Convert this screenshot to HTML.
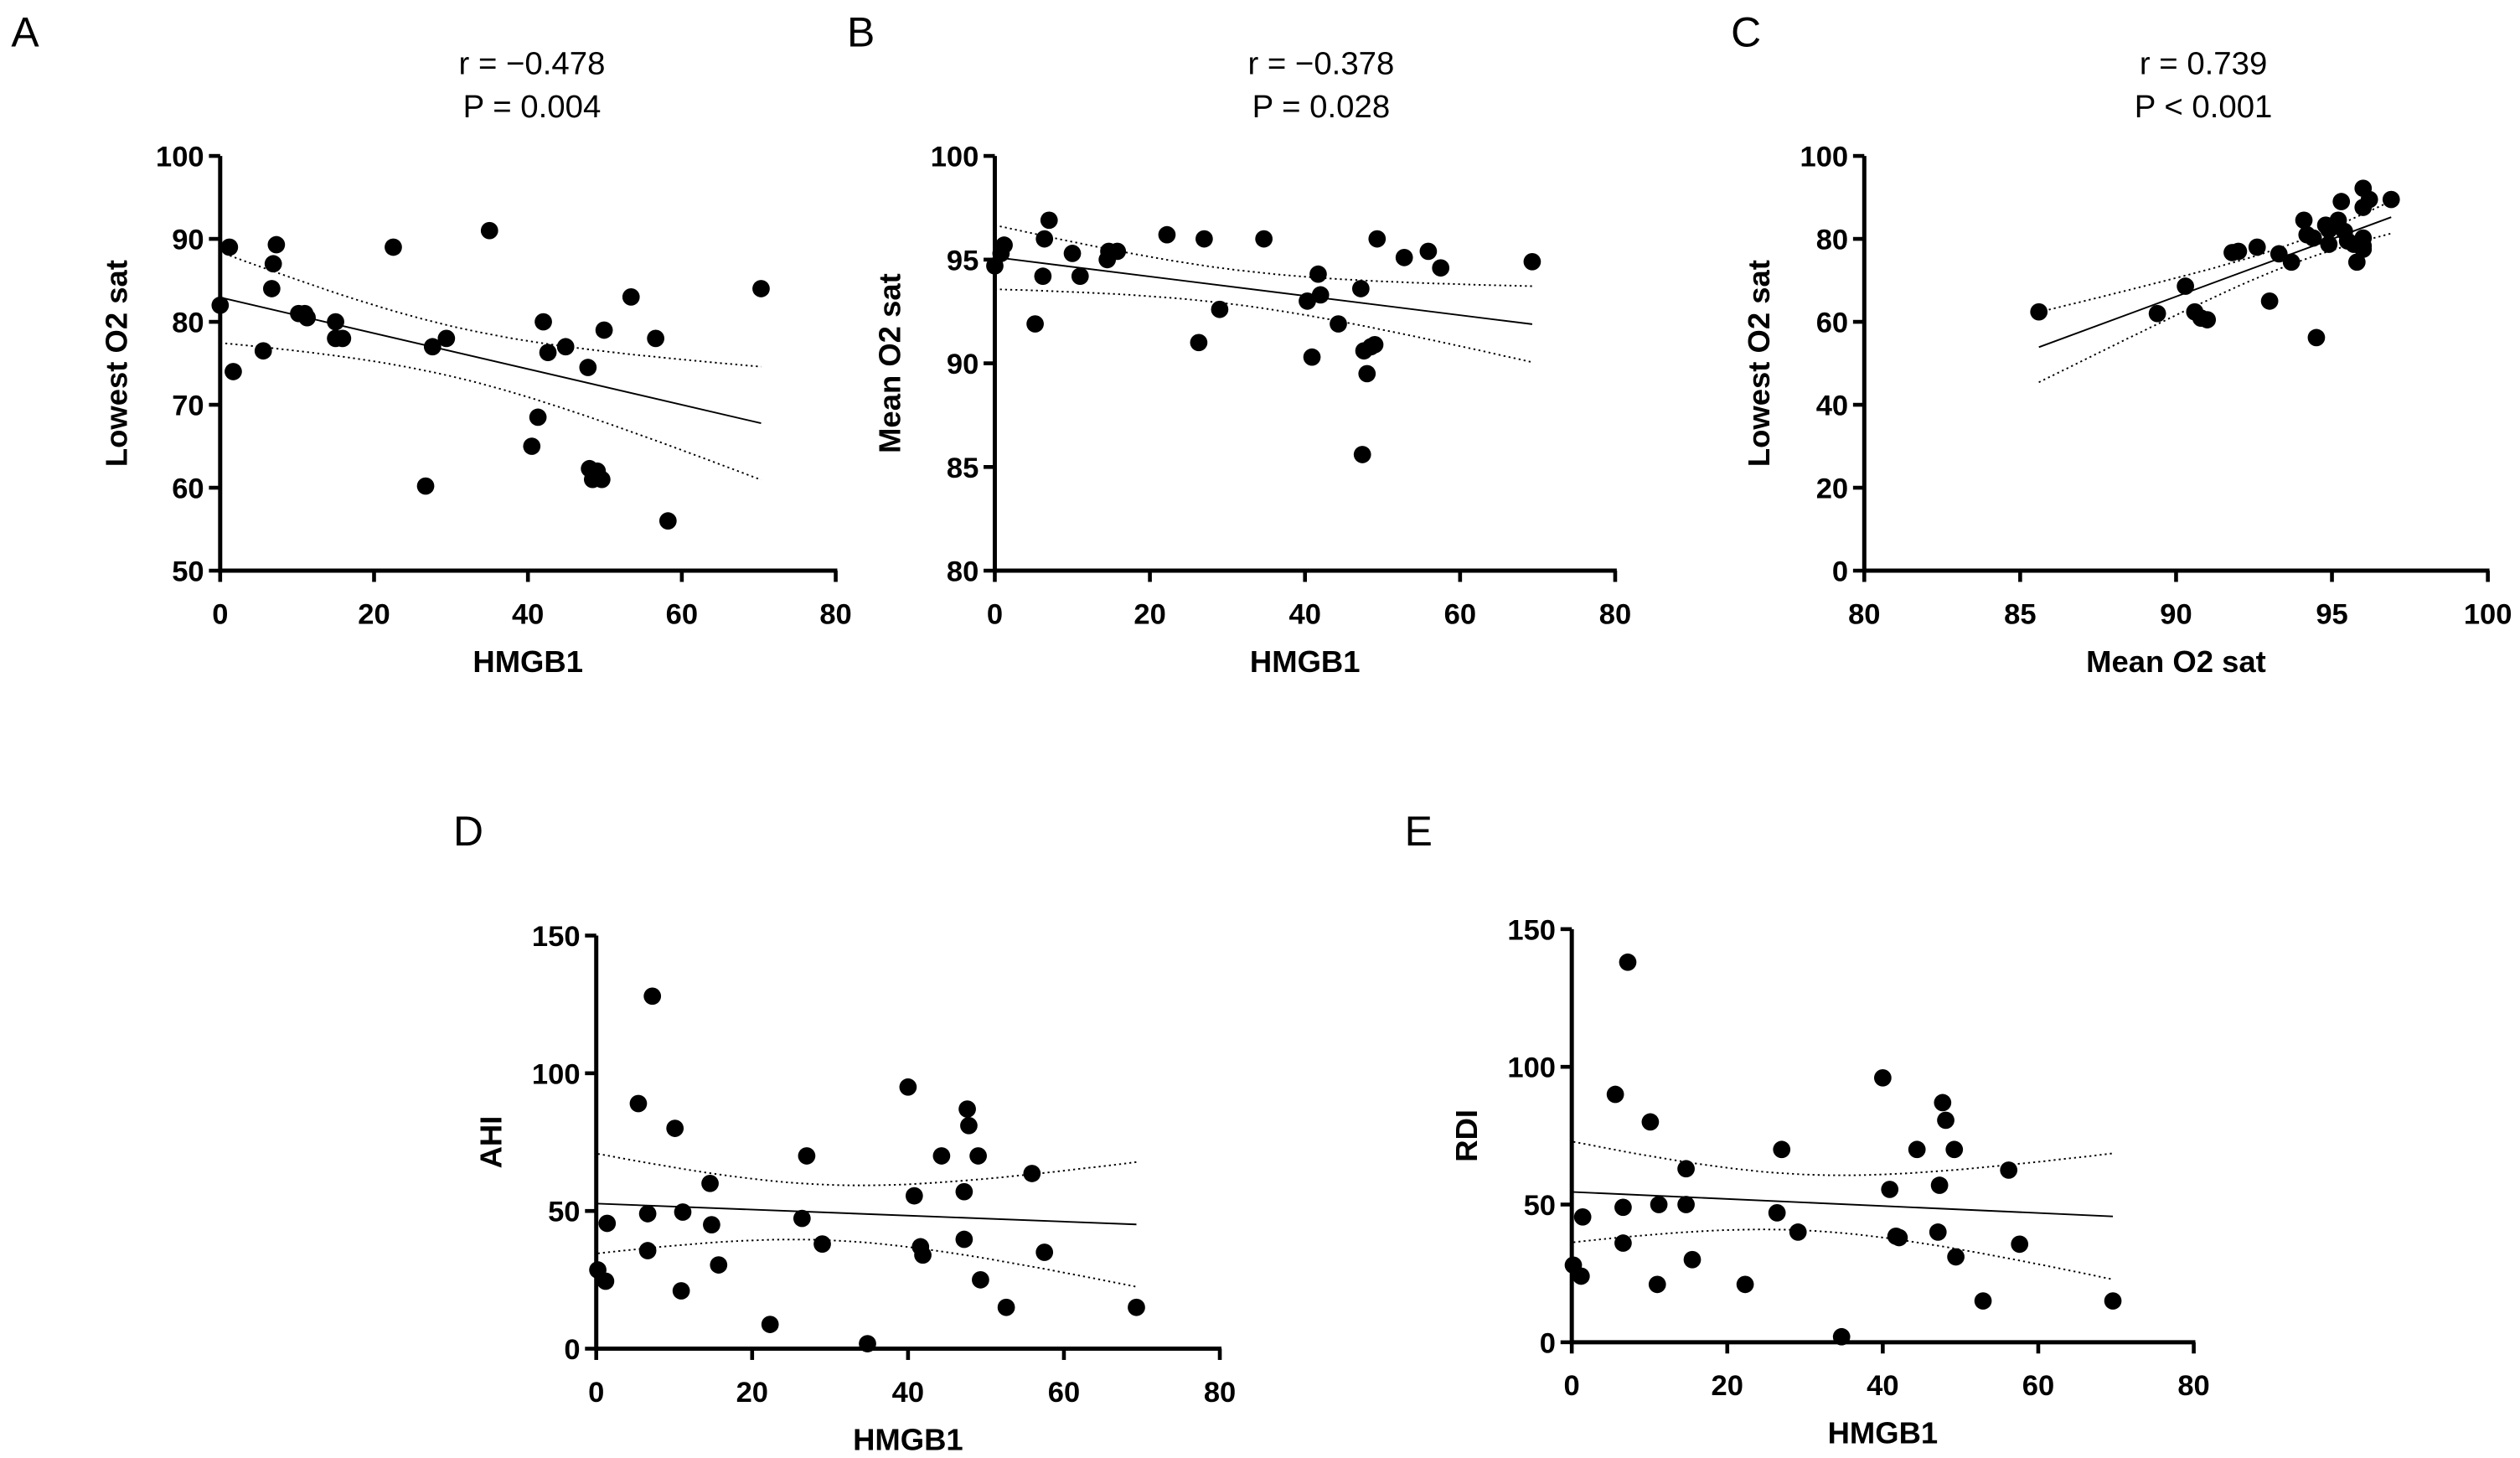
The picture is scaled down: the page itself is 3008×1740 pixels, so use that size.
<!DOCTYPE html>
<html><head><meta charset="utf-8"><style>
html,body{margin:0;padding:0;background:#fff}
svg{display:block}
text{font-family:"Liberation Sans",Arial,sans-serif;fill:#000}
.tk{font-weight:bold;font-size:18px}
.at{font-weight:bold;font-size:19px}
.st{font-size:20px}
.pl{font-size:26px}
</style></head><body>
<svg id="fig" width="3008" height="1740" viewBox="0 0 1568 907" xmlns="http://www.w3.org/2000/svg"></svg>
<script>
// Panel A: HMGB1 vs Lowest O2 sat
const aX=[0,1.2,1.7,5.6,6.9,6.7,7.3,10.2,11,11.3,15,15,15.9,22.5,26.7,27.6,29.4,35,40.5,41.3,42,42.6,44.9,47.8,48,48.4,49,49.6,49.9,53.4,56.6,58.2,70.3];
const aY=[82,89,74,76.5,87,84,89.3,81,81,80.5,80,78,78,89,60.2,77,78,91,65,68.5,80,76.3,77,74.5,62.3,61,62,61,79,83,78,56,84];
// Panel B: HMGB1 vs Mean O2 sat
const bX=[0,0.8,1.2,5.2,6.2,6.4,7,10,11,14.5,14.7,15.8,22.2,26.3,27,29,34.7,40.3,40.9,41.7,42,44.3,47.2,47.6,47.4,48,48.5,49,49.3,52.8,55.9,57.5,69.3];
const bY=[94.7,95.3,95.7,91.9,94.2,96,96.9,95.3,94.2,95,95.4,95.4,96.2,91,96,92.6,96,93,90.3,94.3,93.3,91.9,93.6,90.6,85.6,89.5,90.8,90.9,96,95.1,95.4,94.6,94.9];
// Panel C: Mean vs Lowest O2 sat
const cX=[85.6,89.4,90.3,90.6,90.8,91,91.8,92,92.6,93,93.3,93.7,94.1,94.2,94.4,94.5,94.8,94.9,94.9,95.2,95.3,95.4,95.5,95.7,95.8,96,96,96,96,96,96.2,96.9];
const cY=[62.4,62,68.6,62.4,60.9,60.5,76.7,77,78,65,76.4,74.4,84.5,81,80.2,56.2,83.3,82.2,78.7,84.5,89,81.8,79.5,78.7,74.4,92.2,87.6,80.2,78.3,77.5,89.5,89.5];
// Panel D: HMGB1 vs AHI
const dX=[0.2,1.2,1.4,5.4,6.6,6.6,7.2,10.1,11.1,10.9,14.6,14.8,15.7,22.3,26.4,27,29,34.8,40,40.8,41.6,41.9,44.3,47.2,47.2,47.6,47.8,49,49.3,52.6,55.9,57.5,69.3];
const dY=[28.6,24.5,45.5,89,49,35.6,128,80,49.6,21,60,45,30.4,8.8,47.3,70,38,1.8,95,55.5,37,34,70,57,39.7,87,81,70,25,15,63.6,35,15];
// Panel E: HMGB1 vs RDI
const eX=[0.2,1.2,1.4,5.6,6.6,6.6,7.2,10.1,11.2,11,14.7,14.7,15.5,22.3,26.4,27,29.1,34.7,40,40.9,41.7,42.1,44.4,47.3,47.1,47.7,48.1,49.2,49.4,52.9,56.2,57.6,69.6];
const eY=[28,24,45.5,90,49,36,138,80,50,21,63,50,30,21,47,70,40,2,96,55.5,38.5,38,70,57,40,87,80.6,70,31,15,62.5,35.6,15];
// Tick labels
const ticksHMGB=[0,20,40,60,80];
const ticksLowA=[50,60,70,80,90,100];
const ticksMeanB=[80,85,90,95,100];
const ticksMeanC=[80,85,90,95,100];
const ticksLowC=[0,20,40,60,80,100];
const ticksAHI=[0,50,100,150];
const statsA=["r = \u22120.478","P = 0.004"];
const statsB=["r = \u22120.378","P = 0.028"];
const statsC=["r = 0.739","P < 0.001"];

const NS="http://www.w3.org/2000/svg";
const svg=document.getElementById('fig');
function mk(tag,attrs,parent){const e=document.createElementNS(NS,tag);for(const k in attrs)e.setAttribute(k,attrs[k]);(parent||svg).appendChild(e);return e;}

function panel(o){
  const g=mk('g',{});
  
  
  const sx=v=>o.x0+(v-o.xt[0])/(o.xt[o.xt.length-1]-o.xt[0])*(o.x1-o.x0);
  const sy=v=>o.y0-(v-o.yt[0])/(o.yt[o.yt.length-1]-o.yt[0])*(o.y0-o.y1);
  const X=o.xs,Y=o.ys,n=X.length;
  const mx=X.reduce((a,b)=>a+b)/n,my=Y.reduce((a,b)=>a+b)/n;
  let sxx=0,sxy=0;for(let i=0;i<n;i++){sxx+=(X[i]-mx)**2;sxy+=(X[i]-mx)*(Y[i]-my);}
  const b=sxy/sxx,a=my-b*mx;
  let sse=0;for(let i=0;i<n;i++)sse+=(Y[i]-a-b*X[i])**2;
  const s=Math.sqrt(sse/(n-2)),t=2.04;
  const xmin=Math.min(...X),xmax=Math.max(...X);
  const up=[],lo=[];
  for(let k=0;k<=40;k++){const xv=xmin+(xmax-xmin)*k/40;const yh=a+b*xv;const se=s*Math.sqrt(1/n+(xv-mx)**2/sxx);
    up.push(sx(xv).toFixed(1)+','+sy(yh+t*se).toFixed(1));lo.push(sx(xv).toFixed(1)+','+sy(yh-t*se).toFixed(1));}
  const cu=mk('polyline',{points:up.join(' '),fill:'none',stroke:'#000','stroke-width':1,'stroke-dasharray':'1.2,2'},g);
  
  
  const cl=mk('polyline',{points:lo.join(' '),fill:'none',stroke:'#000','stroke-width':1,'stroke-dasharray':'1.2,2'},g);
  
  
  const rl=mk('line',{x1:sx(xmin),y1:sy(a+b*xmin),x2:sx(xmax),y2:sy(a+b*xmax),stroke:'#000','stroke-width':1},g);
  
  
  for(let i=0;i<n;i++){
    const c=mk('circle',{cx:sx(X[i]),cy:sy(Y[i]),r:5.4,fill:'#000'},g);
    
    
  }
  const ax=mk('line',{x1:o.x0,y1:o.y0,x2:o.x1+1,y2:o.y0,stroke:'#000','stroke-width':2.6},g);
  
  
  const ay=mk('line',{x1:o.x0,y1:o.y0+1.3,x2:o.x0,y2:o.y1,stroke:'#000','stroke-width':2.6},g);
  
  
  o.xt.forEach(v=>{
    mk('line',{x1:sx(v),y1:o.y0,x2:sx(v),y2:o.y0+7,stroke:'#000','stroke-width':2.4},g);
    const tl=mk('text',{x:sx(v),y:o.y0+33,'text-anchor':'middle',class:'tk'},g);
    tl.textContent=v;
    
    
  });
  o.yt.forEach(v=>{
    mk('line',{x1:o.x0-7,y1:sy(v),x2:o.x0,y2:sy(v),stroke:'#000','stroke-width':2.4},g);
    const tl=mk('text',{x:o.x0-10,y:sy(v)+6.5,'text-anchor':'end',class:'tk'},g);
    tl.textContent=v;
    
    
  });
  const xt=mk('text',{x:(o.x0+o.x1)/2,y:o.y0+63,'text-anchor':'middle',class:'at'},g);
  xt.textContent=o.xl;
  
  
  const yc=(o.y0+o.y1)/2;
  const yt=mk('text',{x:o.ytx,y:yc,'text-anchor':'middle',class:'at',transform:'rotate(-90 '+o.ytx+' '+yc+')'},g);
  yt.textContent=o.yl;
  
  
  const pl=mk('text',{x:o.lx,y:o.ly,class:'pl'},g);
  pl.textContent=o.letter;
  
  
  if(o.st){o.st.forEach((s,i)=>{
    const st=mk('text',{x:o.stx,y:46+i*27,'text-anchor':'middle',class:'st'},g);
    st.textContent=s;
    
    
  });}
}
panel({id:'a',x0:137,x1:520,y0:355,y1:97,xt:ticksHMGB,yt:ticksLowA,xs:aX,ys:aY,xl:'HMGB1',yl:'Lowest O2 sat',ytx:79,letter:'A',lx:7,ly:29,st:statsA,stx:331});
panel({id:'b',x0:619,x1:1005,y0:355,y1:97,xt:ticksHMGB,yt:ticksMeanB,xs:bX,ys:bY,xl:'HMGB1',yl:'Mean O2 sat',ytx:560,letter:'B',lx:527,ly:29,st:statsB,stx:822});
panel({id:'c',x0:1160,x1:1548,y0:355,y1:97,xt:ticksMeanC,yt:ticksLowC,xs:cX,ys:cY,xl:'Mean O2 sat',yl:'Lowest O2 sat',ytx:1101,letter:'C',lx:1077,ly:29,st:statsC,stx:1371});
panel({id:'d',x0:371,x1:759,y0:839,y1:582,xt:ticksHMGB,yt:ticksAHI,xs:dX,ys:dY,xl:'HMGB1',yl:'AHI',ytx:312,letter:'D',lx:282,ly:526});
panel({id:'e',x0:978,x1:1365,y0:835,y1:578,xt:ticksHMGB,yt:ticksAHI,xs:eX,ys:eY,xl:'HMGB1',yl:'RDI',ytx:919,letter:'E',lx:874,ly:526});
</script>
</body></html>
